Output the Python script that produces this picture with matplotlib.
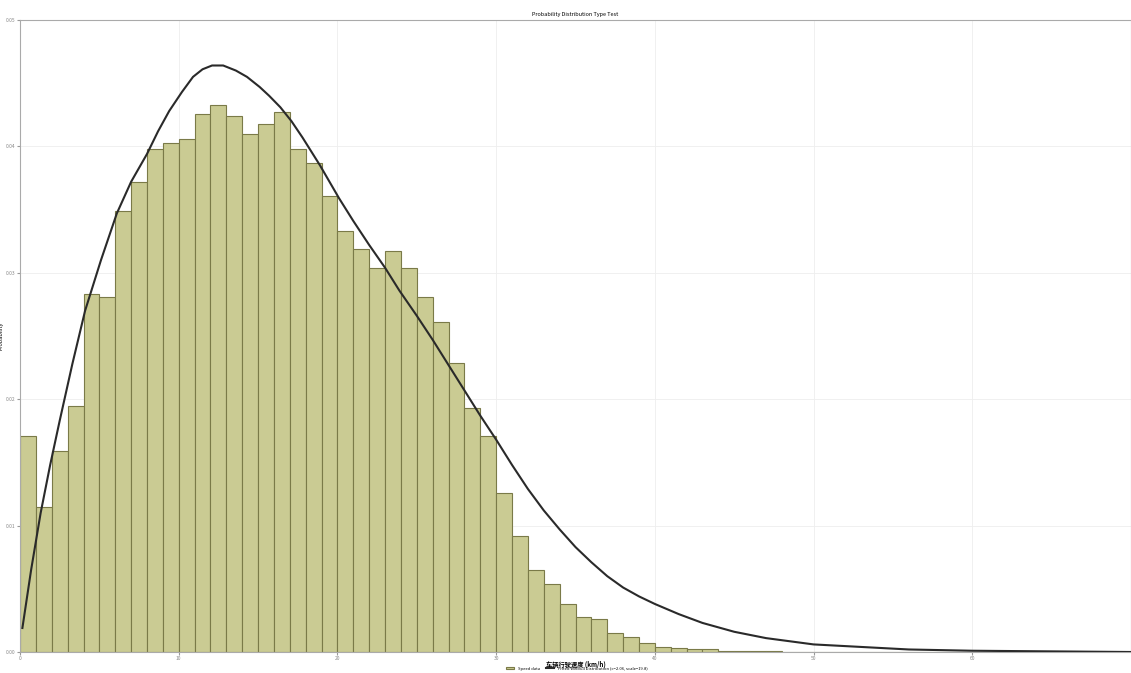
import numpy as np
import matplotlib.pyplot as plt

plt.rcParams['font.family'] = ['Noto Sans CJK SC', 'DejaVu Sans']

# histogram (density, bin width 1)
bin_edges = list(range(0, 71))
density = [0.0171, 0.0115, 0.0159, 0.0195, 0.0283, 0.0281, 0.0349, 0.0372, 0.0398, 0.0403,
           0.0406, 0.0426, 0.0433, 0.0424, 0.0410, 0.0418, 0.0427, 0.0398, 0.0387, 0.0361,
           0.0333, 0.0319, 0.0304, 0.0317, 0.0304, 0.0281, 0.0261, 0.0229, 0.0193, 0.0171,
           0.0126, 0.0092, 0.0065, 0.0054, 0.0038, 0.0028, 0.0026, 0.0015, 0.0012, 0.0007,
           0.0004, 0.0003, 0.0002, 0.0002, 0.0001, 0.0001, 0.0001, 0.0001, 0.0, 0.0,
           0.0, 0.0, 0.0, 0.0, 0.0, 0.0, 0.0, 0.0, 0.0, 0.0,
           0.0, 0.0, 0.0, 0.0, 0.0, 0.0, 0.0, 0.0, 0.0, 0.0]

# fitted curve
fit_x = [0.15, 0.7, 1.3, 1.9, 2.5, 3.3, 4.1, 5.1, 6.1, 7.0, 8.0, 8.7, 9.4, 10.2, 10.9,
         11.5, 12.1, 12.8, 13.6, 14.3, 15.1, 15.7, 16.4, 17.1, 17.8, 18.9, 20.1, 21, 22,
         23, 23.9, 25, 26, 27, 28, 29, 30, 31, 32, 33, 34, 35, 36, 37, 38, 39, 40, 41.5,
         43, 45, 47, 50, 53, 56, 60, 65, 70]
fit_y = [0.0019, 0.0065, 0.0110, 0.0148, 0.0183, 0.0228, 0.0270, 0.0310, 0.0347, 0.0372,
         0.0394, 0.0412, 0.0428, 0.0443, 0.0455, 0.0461, 0.0464, 0.0464, 0.0460, 0.0455,
         0.0447, 0.0440, 0.0431, 0.0420, 0.0407, 0.0385, 0.0359, 0.0341, 0.0322, 0.0304,
         0.0286, 0.0266, 0.0247, 0.0227, 0.0207, 0.0187, 0.0168, 0.0148, 0.0129, 0.0112,
         0.0097, 0.0083, 0.0071, 0.0060, 0.0051, 0.0044, 0.0038, 0.0030, 0.0023, 0.0016,
         0.0011, 0.0006, 0.0004, 0.0002, 0.0001, 0.00005, 0.0]

xticks = [0, 10, 20, 30, 40, 50, 60]
yticks = [0.0, 0.01, 0.02, 0.03, 0.04, 0.05]

fig = plt.figure(figsize=(11.31, 6.73), dpi=100)
ax = fig.add_axes([0.0177, 0.0312, 0.9823, 0.9391])

bars = ax.bar(bin_edges[:-1], density, width=1, align='edge', color='#cacb93',
              edgecolor='#7a7a48', linewidth=0.8, label='Speed data', zorder=2)
line, = ax.plot(fit_x, fit_y, color='#2a2a2a', linewidth=1.5,
                label='Fitted Weibull Distribution (c=2.06, scale=19.8)', zorder=3)

ax.set_xlim(0, 70)
ax.set_ylim(0, 0.05)
ax.set_xticks(xticks)
ax.set_yticks(yticks)
ax.tick_params(labelsize=3.5, labelcolor='#888888', length=2, color='#999999', pad=1)
ax.grid(color='#eeeeee', linewidth=0.6, zorder=0)
for s in ax.spines.values():
    s.set_color('#aaaaaa')
    s.set_linewidth(0.8)

ax.set_title('Probability Distribution Type Test', fontsize=4, pad=3)
ax.set_xlabel('车辆行驶速度 (km/h)', fontsize=4.5, fontweight='bold', labelpad=-0.5)
ax.set_ylabel('Probability', fontsize=4, labelpad=2)

fig.legend(handles=[bars, line], loc='upper center', bbox_to_anchor=(0.51, 0.0125), ncol=2,
           fontsize=3, frameon=False, handlelength=2, columnspacing=1.5,
           borderpad=0, handleheight=0.5)

fig.savefig('out.png', dpi=100)
